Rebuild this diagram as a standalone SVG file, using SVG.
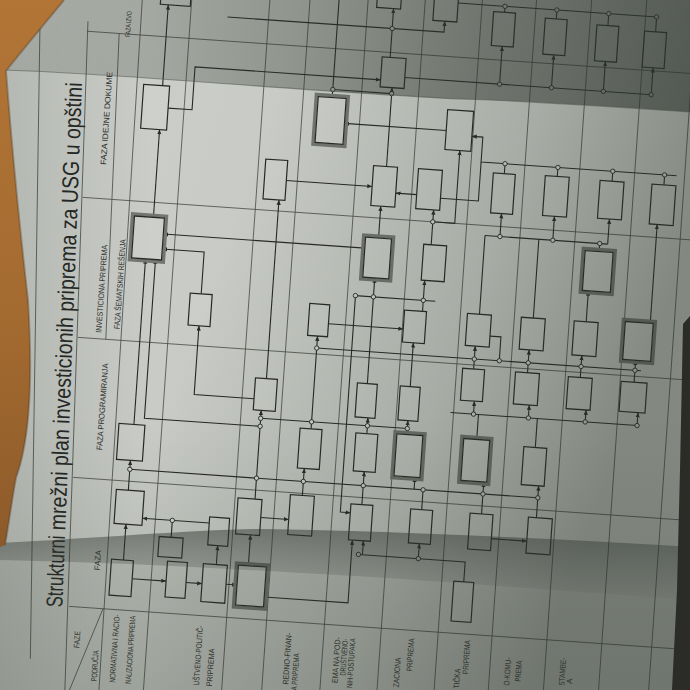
<svg xmlns="http://www.w3.org/2000/svg" width="690" height="690" viewBox="0 0 690 690">
<defs>
<style>
.g{fill:none;stroke:#4b4e49;stroke-width:.8}
.c{fill:none;stroke:#262825;stroke-width:1.1}
.b{fill:#d2d5cf;stroke:#262825;stroke-width:1.2}
.t{fill:none;stroke:#767973;stroke-width:3.4}
.j{fill:#dcdfd9;stroke:#262825;stroke-width:.9}
text{font-family:"Liberation Sans",Arial,sans-serif;fill:#2c2e2b}
.ph{font-size:8px}
.lab{font-size:8px}
.ti{font-size:23px;fill:#242624}
</style>
<marker id="a" viewBox="0 0 8 8" refX="8" refY="4" markerWidth="4.4" markerHeight="4.4" orient="auto"><path d="M0,0.5 L8,4 L0,7.5 z" fill="#262825"/></marker>
<linearGradient id="shR" x1="0" y1="0" x2="1" y2="0.35">
<stop offset="0" stop-color="#2a312a" stop-opacity="0"/>
<stop offset="0.4" stop-color="#2a312a" stop-opacity="0.04"/>
<stop offset="0.75" stop-color="#2a312a" stop-opacity="0.24"/>
<stop offset="1" stop-color="#2a312a" stop-opacity="0.46"/>
</linearGradient>
<linearGradient id="shL" x1="0" y1="0" x2="1" y2="0">
<stop offset="0" stop-color="#2a312a" stop-opacity="0.16"/>
<stop offset="0.22" stop-color="#2a312a" stop-opacity="0"/>
</linearGradient>
<linearGradient id="shB" x1="0" y1="0" x2="0" y2="1">
<stop offset="0.6" stop-color="#2a312a" stop-opacity="0"/>
<stop offset="1" stop-color="#2a312a" stop-opacity="0.14"/>
</linearGradient>
<linearGradient id="top" x1="0" y1="0" x2="1" y2="0">
<stop offset="0" stop-color="#2e352e" stop-opacity="0.12"/>
<stop offset="0.3" stop-color="#2e352e" stop-opacity="0.3"/>
<stop offset="0.7" stop-color="#2e352e" stop-opacity="0.5"/>
<stop offset="1" stop-color="#2e352e" stop-opacity="0.6"/>
</linearGradient>
<linearGradient id="fold" x1="0" y1="0" x2="0" y2="1">
<stop offset="0" stop-color="#2f352f" stop-opacity="0.5"/>
<stop offset="0.35" stop-color="#2f352f" stop-opacity="0.36"/>
<stop offset="1" stop-color="#2f352f" stop-opacity="0.12"/>
</linearGradient>
<linearGradient id="wood" x1="0" y1="0" x2="0" y2="1">
<stop offset="0" stop-color="#b27536"/>
<stop offset="0.6" stop-color="#a36a30"/>
<stop offset="1" stop-color="#8c5a2a"/>
</linearGradient>
</defs>

<rect width="690" height="690" fill="#cfd2cc"/>

<g transform="rotate(4 345 345)">
<g id="grid" class="g">
<path d="M18,40L53,680"/>
<path d="M66,40L90,720"/>
<path d="M98,50L106,356"/>
<path d="M118,-80L124,760"/>
<path d="M168,-80V760M246,-80V760M286,-80V760M344,-80V760M401,-80V760M458,-80V760M512,-80V760M567,-80V760M622,-80V760M672,-80V760"/>
<path d="M66,50H760M73,216H760M78,356H760M83,496H760M88,625H760"/>
<path d="M122,625L94,709"/>
</g>

<g id="title">
<text class="ti" transform="translate(81.3 626.7) rotate(-91.9)" textLength="72" lengthAdjust="spacingAndGlyphs">Strukturni</text>
<text class="ti" transform="translate(78.9 549.5) rotate(-91.86)" textLength="448" lengthAdjust="spacingAndGlyphs">mrežni plan investicionih priprema za USG u opštini</text>
</g>

<g id="phases">
<text class="ph" style="font-size:7px" transform="translate(109 53) rotate(-90)" textLength="26" lengthAdjust="spacingAndGlyphs">FAZA IZVO</text>
<text class="ph" transform="translate(94 182) rotate(-90)" textLength="93" lengthAdjust="spacingAndGlyphs">FAZA IDEJNE DOKUME</text>
<text class="ph" transform="translate(101 350) rotate(-90)" textLength="88" lengthAdjust="spacingAndGlyphs">INVESTICIONA PRIPREMA</text>
<text class="ph" transform="translate(119 345) rotate(-90)" textLength="90" lengthAdjust="spacingAndGlyphs">FAZA ŠEMATSKIH REŠENJA</text>
<text class="ph" transform="translate(110 467) rotate(-90)" textLength="87" lengthAdjust="spacingAndGlyphs">FAZA PROGRAMIRANJA</text>
<text class="ph" transform="translate(116 587) rotate(-90)">FAZA</text>
</g>

<g id="areas">
<text class="lab" transform="translate(101 666) rotate(-90)" textLength="17" lengthAdjust="spacingAndGlyphs">FAZE</text>
<text class="lab" transform="translate(120.7 698) rotate(-90)" textLength="31" lengthAdjust="spacingAndGlyphs">PODRUČJA</text>
<text class="lab" text-anchor="end" transform="translate(139 630) rotate(-90)" textLength="68" lengthAdjust="spacingAndGlyphs">NORMATIVNA I RACIO-</text>
<text class="lab" text-anchor="end" transform="translate(155 630) rotate(-90)" textLength="68" lengthAdjust="spacingAndGlyphs">NALIZACIONA PRIPREMA</text>
<text class="lab" text-anchor="end" transform="translate(223 635) rotate(-90)" textLength="60" lengthAdjust="spacingAndGlyphs">UŠTVENO-POLITIČ-</text>
<text class="lab" text-anchor="end" transform="translate(236 657) rotate(-90)" textLength="38" lengthAdjust="spacingAndGlyphs">PRIPREMA</text>
<text class="lab" text-anchor="end" transform="translate(312 636) rotate(-90)" textLength="52" lengthAdjust="spacingAndGlyphs">REDNO-FINAN-</text>
<text class="lab" text-anchor="end" transform="translate(321 656) rotate(-90)" textLength="37" lengthAdjust="spacingAndGlyphs">A PRIPREMA</text>
<text class="lab" text-anchor="end" transform="translate(361 637) rotate(-90)" textLength="46" lengthAdjust="spacingAndGlyphs">EMA NA POD-</text>
<text class="lab" text-anchor="end" transform="translate(368.5 638) rotate(-90)" textLength="37" lengthAdjust="spacingAndGlyphs">DRUŠTVENO-</text>
<text class="lab" text-anchor="end" transform="translate(376 637) rotate(-90)" textLength="50" lengthAdjust="spacingAndGlyphs">NIH-POSTUPAKA</text>
<text class="lab" text-anchor="end" transform="translate(422.5 653) rotate(-90)" textLength="30" lengthAdjust="spacingAndGlyphs">ZACIONA</text>
<text class="lab" text-anchor="end" transform="translate(434.5 633) rotate(-90)" textLength="33" lengthAdjust="spacingAndGlyphs">PRIPREMA</text>
<text class="lab" text-anchor="end" transform="translate(482.8 660) rotate(-90)" textLength="20" lengthAdjust="spacingAndGlyphs">TIČKA</text>
<text class="lab" text-anchor="end" transform="translate(490.6 631) rotate(-90)" textLength="34" lengthAdjust="spacingAndGlyphs">PRIPREMA</text>
<text class="lab" text-anchor="end" transform="translate(532.6 645.4) rotate(-90)" textLength="28" lengthAdjust="spacingAndGlyphs">O-KOMU-</text>
<text class="lab" text-anchor="end" transform="translate(543.5 647.7) rotate(-90)" textLength="21" lengthAdjust="spacingAndGlyphs">PREMA</text>
<text class="lab" text-anchor="end" transform="translate(587.5 641.6) rotate(-90)" textLength="28" lengthAdjust="spacingAndGlyphs">STAMBE-</text>
<text class="lab" text-anchor="end" transform="translate(595 662) rotate(-90)">A</text>
</g>

<g id="connectors" class="c">
<path d="M145,99V18" marker-end="url(#a)"/>
<path d="M145,231V143" marker-end="url(#a)"/>
<path d="M140,439V273" marker-end="url(#a)"/>
<path d="M266,432H150V273" marker-end="url(#a)"/>
<path d="M358,247H156" marker-end="url(#a)"/>
<path d="M198,304V262H156" marker-end="url(#a)"/>
<path d="M258,405H198V336" marker-end="url(#a)"/>
<path d="M139,505V475" marker-end="url(#a)"/>
<path d="M139,575V539" marker-end="url(#a)"/>
<path d="M222,532H155" marker-end="url(#a)"/>
<path d="M185,549V532"/>
<path d="M149,593H183" marker-end="url(#a)"/>
<path d="M203,593H219" marker-end="url(#a)"/>
<path d="M243,592H254" marker-end="url(#a)"/>
<path d="M232,573V554" marker-end="url(#a)"/>
<path d="M264,572V541" marker-end="url(#a)"/>
<path d="M282,602H366V539" marker-end="url(#a)"/>
<path d="M273,523H301" marker-end="url(#a)"/>
<path d="M266,505V416" marker-end="url(#a)"/>
<path d="M139,484H548"/>
<path d="M313,498V471" marker-end="url(#a)"/>
<path d="M373,503V470" marker-end="url(#a)"/>
<path d="M433,504V484"/>
<path d="M424,484V472" marker-end="url(#a)"/>
<path d="M493,504V472" marker-end="url(#a)"/>
<path d="M548,504V472" marker-end="url(#a)"/>
<path d="M480,573V553H373"/>
<path d="M377,553V539" marker-end="url(#a)"/>
<path d="M433,553V538" marker-end="url(#a)"/>
<path d="M504,528H540" marker-end="url(#a)"/>
<path d="M352,295V512H362" marker-end="url(#a)"/>
<path d="M266,424H413"/>
<path d="M373,432V416" marker-end="url(#a)"/>
<path d="M413,430V416" marker-end="url(#a)"/>
<path d="M317,431V338" marker-end="url(#a)"/>
<path d="M317,350H642"/>
<path d="M475,360V337" marker-end="url(#a)"/>
<path d="M529,360V337" marker-end="url(#a)"/>
<path d="M582,361V339" marker-end="url(#a)"/>
<path d="M636,362V340" marker-end="url(#a)"/>
<path d="M489,326H500V350"/>
<path d="M483,430V405"/>
<path d="M542,434V405"/>
<path d="M455,405H642"/>
<path d="M478,405V392" marker-end="url(#a)"/>
<path d="M533,405V392" marker-end="url(#a)"/>
<path d="M590,405V393" marker-end="url(#a)"/>
<path d="M642,405V392" marker-end="url(#a)"/>
<path d="M370,382V276" marker-end="url(#a)"/>
<path d="M352,295H432"/>
<path d="M413,382V338" marker-end="url(#a)"/>
<path d="M420,306V275" marker-end="url(#a)"/>
<path d="M327,325H402" marker-end="url(#a)"/>
<path d="M269,384V205" marker-end="url(#a)"/>
<path d="M275,185H361" marker-end="url(#a)"/>
<path d="M406,190H385" marker-end="url(#a)"/>
<path d="M371,236V204" marker-end="url(#a)"/>
<path d="M424,239V204" marker-end="url(#a)"/>
<path d="M424,216H446V143" marker-end="url(#a)"/>
<path d="M664,153H468V128H457" marker-end="url(#a)"/>
<path d="M430,192H468V153"/>
<path d="M492,163V153M545,162V153M600,163V153M652,163V153"/>
<path d="M477,305V226M531,305V226M592,234V226"/>
<path d="M477,226H600"/>
<path d="M492,226V203" marker-end="url(#a)"/>
<path d="M545,226V202" marker-end="url(#a)"/>
<path d="M600,226V201" marker-end="url(#a)"/>
<path d="M584,305V274" marker-end="url(#a)"/>
<path d="M648,302V203" marker-end="url(#a)"/>
<path d="M374,164V85" marker-end="url(#a)"/>
<path d="M315,99V-70"/>
<path d="M315,91H374"/>
<path d="M431,124H329" marker-end="url(#a)"/>
<path d="M152,121H176V78H362" marker-end="url(#a)"/>
<path d="M386,74H633"/>
<path d="M481,74V36" marker-end="url(#a)"/>
<path d="M533,74V41" marker-end="url(#a)"/>
<path d="M585,74V44" marker-end="url(#a)"/>
<path d="M633,74V47" marker-end="url(#a)"/>
<path d="M370,55V6" marker-end="url(#a)"/>
<path d="M205,26H422V15" marker-end="url(#a)"/>
<path d="M215,-8H353" marker-end="url(#a)"/>
<path d="M377,-10H410" marker-end="url(#a)"/>
<path d="M434,-4H633"/>
<path d="M481,-4V2M533,-4V5M585,-4V8M633,-4V11"/>
</g>

<g id="junctions" class="j">
<circle cx="139" cy="484" r="2.2"/><circle cx="266" cy="484" r="2.2"/><circle cx="313" cy="484" r="2.2"/><circle cx="373" cy="484" r="2.2"/><circle cx="433" cy="484" r="2.2"/><circle cx="493" cy="484" r="2.2"/><circle cx="548" cy="484" r="2.2"/>
<circle cx="266" cy="432" r="2.2"/><circle cx="266" cy="424" r="2.2"/><circle cx="317" cy="424" r="2.2"/><circle cx="373" cy="424" r="2.2"/><circle cx="413" cy="424" r="2.2"/>
<circle cx="317" cy="350" r="2.2"/><circle cx="475" cy="350" r="2.2"/><circle cx="500" cy="350" r="2.2"/><circle cx="529" cy="350" r="2.2"/><circle cx="582" cy="350" r="2.2"/><circle cx="636" cy="350" r="2.2"/>
<circle cx="478" cy="405" r="2.2"/><circle cx="533" cy="405" r="2.2"/><circle cx="590" cy="405" r="2.2"/><circle cx="642" cy="405" r="2.2"/>
<circle cx="370" cy="295" r="2.2"/><circle cx="420" cy="295" r="2.2"/><circle cx="352" cy="295" r="2.2"/>
<circle cx="373" cy="553" r="2.2"/><circle cx="433" cy="553" r="2.2"/><circle cx="185" cy="532" r="2.2"/>
<circle cx="424" cy="216" r="2.2"/>
<circle cx="492" cy="153" r="2.2"/><circle cx="545" cy="153" r="2.2"/><circle cx="600" cy="153" r="2.2"/><circle cx="652" cy="153" r="2.2"/>
<circle cx="492" cy="226" r="2.2"/><circle cx="545" cy="226" r="2.2"/><circle cx="592" cy="226" r="2.2"/>
<circle cx="374" cy="91" r="2.2"/><circle cx="315" cy="91" r="2.2"/>
<circle cx="481" cy="74" r="2.2"/><circle cx="533" cy="74" r="2.2"/><circle cx="585" cy="74" r="2.2"/><circle cx="633" cy="74" r="2.2"/>
<circle cx="370" cy="26" r="2.2"/>
<circle cx="481" cy="-4" r="2.2"/><circle cx="533" cy="-4" r="2.2"/><circle cx="585" cy="-4" r="2.2"/><circle cx="633" cy="-4" r="2.2"/>
</g>

<g id="n1"><rect class="b" x="126" y="99" width="26" height="44"/></g>
<g id="n2"><rect class="t" x="124" y="229" width="34" height="46"/><rect class="b" x="126" y="231" width="30" height="42"/></g>
<g id="n3"><rect class="b" x="187" y="304" width="22" height="32"/></g>
<g id="n4"><rect class="b" x="125" y="439" width="26" height="36"/></g>
<g id="n5"><rect class="b" x="127" y="505" width="28" height="34"/></g>
<g id="n6"><rect class="b" x="173" y="549" width="24" height="20"/></g>
<g id="n7"><rect class="b" x="127" y="575" width="22" height="36"/></g>
<g id="n8"><rect class="b" x="183" y="573" width="20" height="36"/></g>
<g id="n9"><rect class="b" x="219" y="573" width="24" height="38"/></g>
<g id="n10"><rect class="t" x="252" y="570" width="32" height="44"/><rect class="b" x="254" y="572" width="28" height="40"/></g>
<g id="n11"><rect class="b" x="249" y="505" width="24" height="36"/></g>
<g id="n11b"><rect class="b" x="222" y="526" width="20" height="28"/></g>
<g id="n12"><rect class="b" x="301" y="498" width="24" height="40"/></g>
<g id="n13"><rect class="b" x="362" y="503" width="22" height="36"/></g>
<g id="n14"><rect class="b" x="422" y="504" width="22" height="34"/></g>
<g id="n15"><rect class="b" x="470" y="573" width="20" height="40"/></g>
<g id="n16"><rect class="b" x="481.5" y="504" width="23" height="36"/></g>
<g id="n17"><rect class="b" x="540" y="504" width="24" height="36"/></g>
<g id="n18"><rect class="t" x="468" y="428" width="30" height="46"/><rect class="b" x="470" y="430" width="26" height="42"/></g>
<g id="n19"><rect class="b" x="530.5" y="434" width="23" height="38"/></g>
<g id="n20"><rect class="b" x="306" y="431" width="22" height="40"/></g>
<g id="n21"><rect class="b" x="362" y="432" width="22" height="38"/></g>
<g id="n22"><rect class="t" x="401" y="428" width="30" height="46"/><rect class="b" x="403" y="430" width="26" height="42"/></g>
<g id="n23"><rect class="b" x="258" y="384" width="22" height="32"/></g>
<g id="n24"><rect class="b" x="360" y="382" width="20" height="34"/></g>
<g id="n25"><rect class="b" x="403" y="382" width="20" height="34"/></g>
<g id="n26"><rect class="b" x="464" y="360" width="22" height="32"/></g>
<g id="n27"><rect class="b" x="517" y="360" width="24" height="32"/></g>
<g id="n28"><rect class="b" x="570" y="361" width="24" height="32"/></g>
<g id="n29"><rect class="b" x="623" y="362" width="26" height="30"/></g>
<g id="n30"><rect class="b" x="307" y="306" width="20" height="32"/></g>
<g id="n31"><rect class="b" x="402" y="306" width="22" height="32"/></g>
<g id="n32"><rect class="b" x="465" y="305" width="24" height="32"/></g>
<g id="n33"><rect class="b" x="519" y="305" width="24" height="32"/></g>
<g id="n34"><rect class="b" x="572" y="305" width="24" height="34"/></g>
<g id="n35"><rect class="t" x="621" y="300" width="32" height="42"/><rect class="b" x="623" y="302" width="28" height="38"/></g>
<g id="n36"><rect class="t" x="356" y="234" width="30" height="44"/><rect class="b" x="358" y="236" width="26" height="40"/></g>
<g id="n37"><rect class="b" x="416.5" y="239" width="23" height="36"/></g>
<g id="n38"><rect class="t" x="576" y="232" width="32" height="44"/><rect class="b" x="578" y="234" width="28" height="40"/></g>
<g id="n39"><rect class="b" x="253" y="165" width="22" height="40"/></g>
<g id="n40"><rect class="b" x="361" y="164" width="24" height="40"/></g>
<g id="n41"><rect class="b" x="406" y="164" width="24" height="40"/></g>
<g id="n42"><rect class="b" x="481" y="163" width="22" height="40"/></g>
<g id="n43"><rect class="b" x="533" y="162" width="24" height="40"/></g>
<g id="n44"><rect class="b" x="588" y="163" width="24" height="38"/></g>
<g id="n45"><rect class="b" x="640" y="163" width="24" height="40"/></g>
<g id="n46"><rect class="t" x="299" y="97" width="32" height="50"/><rect class="b" x="301" y="99" width="28" height="46"/></g>
<g id="n47"><rect class="b" x="362" y="55" width="24" height="30"/></g>
<g id="n48"><rect class="b" x="431" y="103" width="26" height="40"/></g>
<g id="n49"><rect class="b" x="470" y="2" width="22" height="34"/></g>
<g id="n50"><rect class="b" x="522" y="5" width="22" height="36"/></g>
<g id="n51"><rect class="b" x="574" y="8" width="22" height="36"/></g>
<g id="n52"><rect class="b" x="622" y="11" width="22" height="36"/></g>
<g id="n53"><rect class="b" x="353" y="-34" width="24" height="40"/></g>
<g id="n54"><rect class="b" x="410" y="-25" width="24" height="40"/></g>
<g id="n55"><rect class="b" x="137" y="-10" width="30" height="28"/></g>
</g>

<g id="shading">
<rect width="690" height="690" fill="url(#shR)"/>
<rect width="690" height="690" fill="url(#shL)"/>
<rect width="690" height="690" fill="url(#shB)"/>
<path d="M0,0 H690 V112 C600,106 530,101 460,99 C380,95 300,89 230,84 C160,79 90,73 5,70 Z" fill="url(#top)"/>
<path d="M5,70 C90,73 160,79 230,84 C300,89 380,95 460,99 C530,101 600,106 690,112" fill="none" stroke="#50554f" stroke-width="1.2" opacity=".55"/>
<path d="M0,560 C100,562 200,567 300,573 C420,579 560,591 690,600 V690 H0 Z" fill="#3a403a" opacity=".1"/>
<path d="M0,543 C100,538 190,530 260,529 C400,531 560,539 690,547 L690,600 C560,591 420,579 300,573 C200,567 100,562 0,560 Z" fill="url(#fold)"/>
<path d="M0,0 H64 C46,22 24,48 6,71 C12,150 20,230 28,300 C33,380 30,440 16,478 C11,505 8,530 5,545 L0,547 Z" fill="url(#wood)"/>
<path d="M64,0 C46,22 24,48 6,71 C12,150 20,230 28,300 C33,380 30,440 16,478 C11,505 8,530 5,545" fill="none" stroke="#4a3a28" stroke-width="2" opacity=".35"/>
<path d="M690,316 L683,324 L680,470 L677,590 L672,690 H690 Z" fill="#2b2b28"/>
</g>
</svg>
